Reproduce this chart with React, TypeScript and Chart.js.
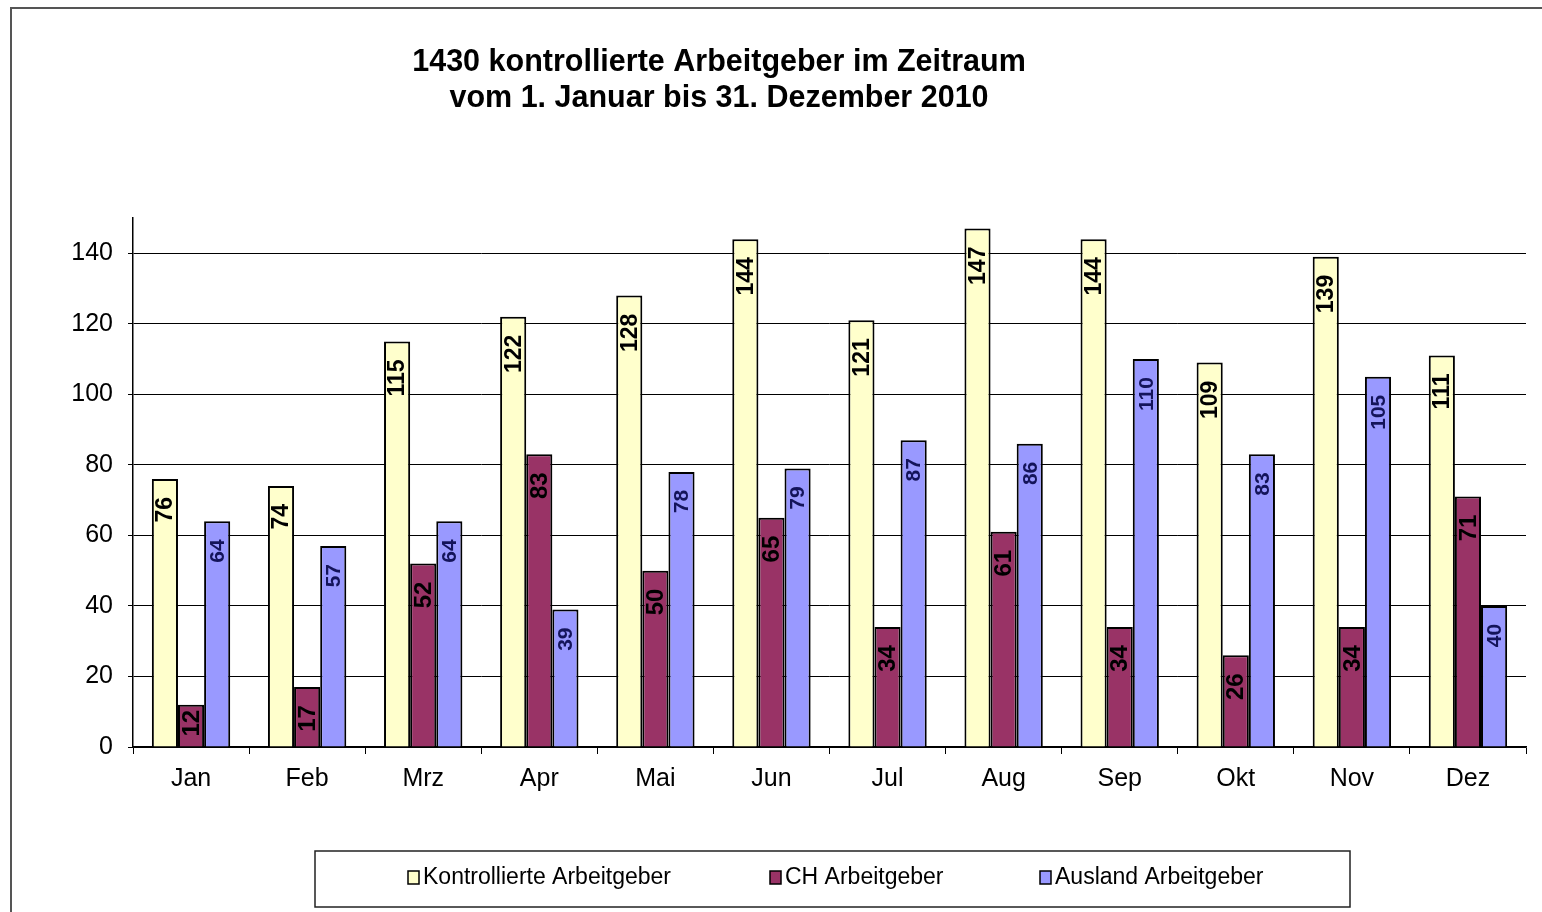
import React, { useEffect, useRef } from "react";
import { Chart, registerables } from "chart.js";

Chart.register(...registerables);

const MONTHS = ["Jan", "Feb", "Mrz", "Apr", "Mai", "Jun", "Jul", "Aug", "Sep", "Okt", "Nov", "Dez"];
const KONTROLLIERTE = [76, 74, 115, 122, 128, 144, 121, 147, 144, 109, 139, 111];
const CH = [12, 17, 52, 83, 50, 65, 34, 61, 34, 26, 34, 71];
const AUSLAND = [64, 57, 64, 39, 78, 79, 87, 86, 110, 83, 105, 40];
const SERIES_NAMES = ["Kontrollierte Arbeitgeber", "CH Arbeitgeber", "Ausland Arbeitgeber"];
const TITLE_LINES = ["1430 kontrollierte Arbeitgeber im Zeitraum", "vom 1. Januar bis 31. Dezember 2010"];

const FONT = "'Liberation Sans', Arial, sans-serif";
const COLORS = ["#FFFFCC", "#993366", "#9999FF"];
const LABEL_COLORS = ["#000000", "#000000", "#14145a"];
const LABEL_SIZES = [23, 24, 21];

const titlePlugin = {
  id: "customTitle",
  afterDraw(chart: any) {
    const ctx = chart.ctx;
    ctx.save();
    ctx.fillStyle = "#000";
    ctx.font = `bold 30.5px ${FONT}`;
    ctx.textAlign = "center";
    ctx.textBaseline = "middle";
    TITLE_LINES.forEach((line, i) => {
      ctx.fillText(line, 719, 63 + i * 36);
    });
    ctx.restore();
  },
};

const labelPlugin = {
  id: "barLabels",
  afterDatasetsDraw(chart: any) {
    const ctx = chart.ctx;
    ctx.save();
    chart.data.datasets.forEach((ds: any, di: number) => {
      const meta = chart.getDatasetMeta(di);
      ctx.font = `bold ${LABEL_SIZES[di]}px ${FONT}`;
      ctx.fillStyle = LABEL_COLORS[di];
      meta.data.forEach((bar: any, i: number) => {
        const text = String(ds.data[i]);
        const w = ctx.measureText(text).width;
        const h = bar.base - bar.y;
        const off = Math.max(2, Math.min(18, h - w - 10));
        ctx.save();
        ctx.translate(bar.x, bar.y);
        ctx.rotate(-Math.PI / 2);
        ctx.textAlign = "right";
        ctx.textBaseline = "middle";
        ctx.fillText(text, -off, 1);
        ctx.restore();
      });
    });
    ctx.restore();
  },
};

const legendPlugin = {
  id: "boxLegend",
  afterDraw(chart: any) {
    const ctx = chart.ctx;
    ctx.save();
    ctx.strokeStyle = "#222";
    ctx.lineWidth = 1.5;
    ctx.strokeRect(315, 851, 1035, 56);
    ctx.font = `23px ${FONT}`;
    ctx.textBaseline = "middle";
    ctx.textAlign = "left";
    const xs = [408, 770, 1040];
    const y = 878;
    SERIES_NAMES.forEach((name, i) => {
      ctx.fillStyle = COLORS[i];
      ctx.fillRect(xs[i], y - 7, 11, 13);
      ctx.strokeStyle = "#000";
      ctx.lineWidth = 1.5;
      ctx.strokeRect(xs[i], y - 7, 11, 13);
      ctx.fillStyle = "#000";
      ctx.fillText(name, xs[i] + 15, y);
    });
    ctx.restore();
  },
};

export default function App() {
  const ref = useRef<HTMLCanvasElement>(null);

  useEffect(() => {
    if (!ref.current) return;
    const chart = new Chart(ref.current, {
      type: "bar",
      data: {
        labels: MONTHS,
        datasets: [KONTROLLIERTE, CH, AUSLAND].map((d, i) => ({
          label: SERIES_NAMES[i],
          data: d,
          backgroundColor: COLORS[i],
          borderColor: "#000",
          borderWidth: 2,
          barPercentage: 1,
          categoryPercentage: 0.675,
        })),
      },
      options: {
        animation: false,
        responsive: false,
        maintainAspectRatio: false,
        layout: { padding: { left: 0, right: 16, top: 218, bottom: 0 } },
        plugins: {
          legend: { display: false },
          title: { display: false },
          tooltip: { enabled: false },
        },
        scales: {
          x: {
            afterFit(scale: any) {
              scale.height = 165;
            },
            grid: {
              offset: true,
              drawOnChartArea: false,
              drawTicks: true,
              tickLength: 7,
              color: "#000",
            },
            border: { display: true, color: "#000", width: 1.5 },
            ticks: {
              color: "#000",
              font: { family: FONT, size: 25 },
              padding: 10,
              maxRotation: 0,
            },
          },
          y: {
            min: 0,
            max: 150,
            afterFit(scale: any) {
              scale.width = 133;
            },
            afterBuildTicks(scale: any) {
              scale.ticks = scale.ticks.filter((t: any) => t.value <= 140);
            },
            grid: {
              color: "#000",
              lineWidth: 1,
              drawTicks: true,
              tickLength: 5,
            },
            border: { display: true, color: "#000", width: 1.5 },
            ticks: {
              stepSize: 20,
              color: "#000",
              font: { family: FONT, size: 25 },
              padding: 15,
            },
          },
        },
      },
      plugins: [titlePlugin, labelPlugin, legendPlugin],
    });
    return () => chart.destroy();
  }, []);

  return (
    <div style={{ position: "fixed", left: 0, top: 0, width: 1542, height: 912, background: "#fff" }}>
      <div
        style={{
          position: "absolute",
          left: 10,
          top: 7,
          width: 1560,
          height: 940,
          borderLeft: "2px solid #555",
          borderTop: "2px solid #555",
          boxSizing: "border-box",
        }}
      />
      <canvas ref={ref} width={1542} height={912} style={{ position: "absolute", left: 0, top: 0 }} />
    </div>
  );
}
